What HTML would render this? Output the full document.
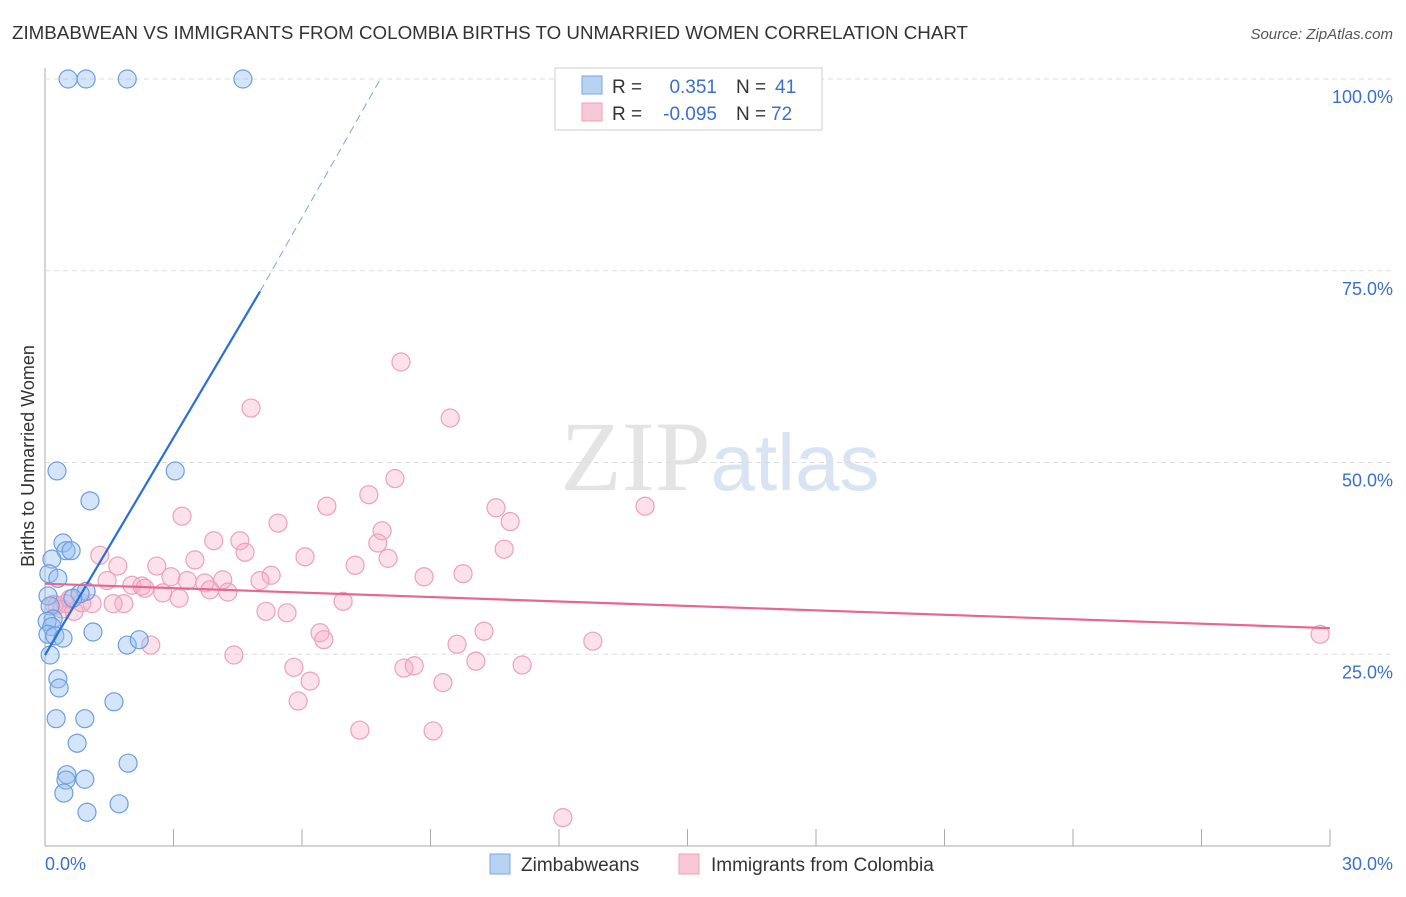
<!DOCTYPE html>
<html><head><meta charset="utf-8"><style>
body{margin:0;background:#fff;font-family:"Liberation Sans",sans-serif}
svg text{font-family:"Liberation Sans",sans-serif}
</style></head><body>
<svg width="1406" height="892" id="chart">
<text x="12" y="39" font-size="18" fill="#333" textLength="956" lengthAdjust="spacingAndGlyphs">ZIMBABWEAN VS IMMIGRANTS FROM COLOMBIA BIRTHS TO UNMARRIED WOMEN CORRELATION CHART</text>
<text x="1393" y="39" font-size="15" fill="#555" font-style="italic" text-anchor="end">Source: ZipAtlas.com</text>
<text x="720" y="490" font-size="100" fill="#e4e4e4" text-anchor="middle" font-family="Liberation Serif"><tspan font-family="Liberation Serif">ZIP</tspan><tspan fill="#d8e4f3" font-size="80" font-family="Liberation Sans">atlas</tspan></text>
<text transform="translate(34,456) rotate(-90)" font-size="18" fill="#333" text-anchor="middle">Births to Unmarried Women</text>
<g id="grid"></g><g id="marks"></g>
<g>
<rect x="555" y="68" width="267" height="62" fill="#fff" stroke="#ccc"/>
<rect x="582" y="76" width="20" height="18" fill="#b8d2f4" stroke="#7aa6e0"/>
<rect x="582" y="103" width="20" height="18" fill="#f9c8d6" stroke="#eea0b8"/>
<text x="612" y="93" font-size="19" fill="#333">R =</text><text x="717" y="93" font-size="19" fill="#3a6fd0" text-anchor="end">0.351</text>
<text x="736" y="93" font-size="19" fill="#333">N =</text><text x="775" y="93" font-size="19" fill="#3a6fd0">41</text>
<text x="612" y="120" font-size="19" fill="#333">R =</text><text x="717" y="120" font-size="19" fill="#3a6fd0" text-anchor="end">-0.095</text>
<text x="736" y="120" font-size="19" fill="#333">N =</text><text x="771" y="120" font-size="19" fill="#3a6fd0">72</text>
</g>
<g>
<rect x="490" y="854" width="20" height="20" fill="#b8d2f4" stroke="#7aa6e0"/>
<text x="521" y="871" font-size="19" fill="#333">Zimbabweans</text>
<rect x="679" y="854" width="20" height="20" fill="#f9c8d6" stroke="#eea0b8"/>
<text x="711" y="871" font-size="19" fill="#333">Immigrants from Colombia</text>
</g>
</svg>
<script>
const xTicks=[0,30];
const yTicks=[25,50,75,100];
const blueX=[0.54,0.96,1.92,4.62,0.28,3.04,1.05,0.42,0.49,0.61,0.16,0.09,0.3,0.07,0.96,0.82,0.65,0.12,0.19,0.05,0.16,0.07,0.23,0.42,1.12,1.92,2.2,0.12,0.3,0.33,1.61,0.26,0.93,0.75,1.94,0.51,0.49,0.93,0.44,1.73,0.98];
const blueY=[100,100,100,100,48.9,48.9,45.0,39.5,38.5,38.5,37.4,35.5,34.9,32.6,33.2,32.9,32.3,31.3,29.6,29.3,28.6,27.6,27.4,27.1,27.9,26.2,26.9,24.9,21.8,20.6,18.8,16.6,16.6,13.4,10.8,9.3,8.6,8.7,6.9,5.5,4.4];
const pinkX=[8.31,4.81,9.46,8.17,7.56,6.58,10.53,14.01,10.86,5.44,7.87,3.2,3.94,4.55,7.77,10.72,1.28,4.67,6.07,1.7,3.5,2.61,7.24,8.01,9.76,8.85,5.28,2.94,1.45,3.32,5.02,2.03,2.26,3.73,4.15,2.33,2.75,3.13,3.85,4.27,1.84,1.1,0.86,0.28,0.4,0.49,0.68,1.59,6.96,5.16,5.65,6.42,6.51,10.25,2.47,4.41,9.62,12.79,29.77,5.81,8.38,8.62,10.06,11.14,6.19,9.29,5.91,7.35,9.06,12.09,0.21,0.58];
const pinkY=[63.1,57.1,55.8,47.9,45.8,44.3,44.1,44.3,42.3,42.1,41.1,43.0,39.8,39.8,39.5,38.7,37.9,38.3,37.7,36.5,37.3,36.5,36.6,37.5,35.5,35.1,35.3,35.1,34.6,34.6,34.6,34.0,33.9,34.3,34.7,33.6,33.0,32.3,33.4,33.1,31.6,31.6,31.7,31.4,30.9,31.6,30.6,31.6,31.9,30.6,30.4,27.8,26.9,28.0,26.2,24.9,26.3,26.7,27.6,23.3,23.2,23.5,24.1,23.6,21.5,21.3,18.9,15.1,15.0,3.7,31.5,32.2];
const blueFit=[[0,24.9],[5.02,72.3],[7.83,100]];
const pinkFit=[[0,34.2],[30,28.4]];
const X=v=>45+v/30*1285, Y=v=>846-v/100*767;
const NS='http://www.w3.org/2000/svg';
const grid=document.getElementById('grid'), marks=document.getElementById('marks');
function mk(tag,attrs,parent){const e=document.createElementNS(NS,tag);for(const k in attrs)e.setAttribute(k,attrs[k]);parent.appendChild(e);return e;}
let l=mk('line',{x1:45,y1:68,x2:45,y2:846,stroke:'#aaa'},grid);


l=mk('line',{x1:45,y1:846,x2:1330,y2:846,stroke:'#aaa'},grid);


for(let i=0;i<=10;i++){const t=mk('line',{x1:X(i*3),y1:829,x2:X(i*3),y2:846,stroke:'#aaa'},grid);

}
yTicks.forEach(v=>{const g=mk('line',{x1:45,y1:Y(v),x2:1393,y2:Y(v),stroke:'#ddd','stroke-dasharray':'5,4'},grid);


const t=mk('text',{x:1393,y:Y(v)+24,'font-size':18,fill:'#3a6fd0','text-anchor':'end'},grid);t.textContent=v.toFixed(1)+'%';

});
xTicks.forEach((v,i)=>{const t=mk('text',{x:i?1393:45,y:870,'font-size':18,fill:'#3a6fd0','text-anchor':i?'end':'start'},grid);t.textContent=v.toFixed(1)+'%';

});
pinkX.forEach((x,i)=>{const c=mk('circle',{cx:X(x),cy:Y(pinkY[i]),r:9,fill:'rgba(246,170,195,0.35)',stroke:'#eda0b9','stroke-width':1.2},marks);

});
blueX.forEach((x,i)=>{const c=mk('circle',{cx:X(x),cy:Y(blueY[i]),r:9,fill:'rgba(150,190,240,0.4)',stroke:'#6a9fe0','stroke-width':1.2},marks);

});
l=mk('line',{x1:X(blueFit[0][0]),y1:Y(blueFit[0][1]),x2:X(blueFit[1][0]),y2:Y(blueFit[1][1]),stroke:'#2a6fd6','stroke-width':2.2},marks);


l=mk('line',{x1:X(blueFit[1][0]),y1:Y(blueFit[1][1]),x2:X(blueFit[2][0]),y2:Y(blueFit[2][1]),stroke:'#7aa6e0','stroke-width':1,'stroke-dasharray':'8,5'},marks);


l=mk('line',{x1:X(pinkFit[0][0]),y1:Y(pinkFit[0][1]),x2:X(pinkFit[1][0]),y2:Y(pinkFit[1][1]),stroke:'#e8668f','stroke-width':2.2},marks);


</script>
</body></html>
